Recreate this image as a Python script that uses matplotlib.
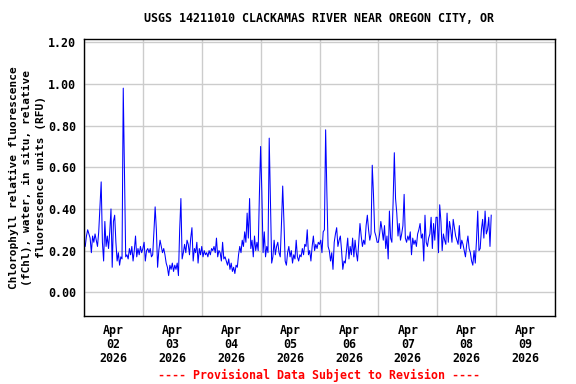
import numpy as np
import pandas as pd
import matplotlib
matplotlib.use("Agg")
import matplotlib.pyplot as plt
import matplotlib.dates as mdates

# half-hourly chlorophyll readings (RFU), one list per day
apr02 = [0.24, 0.22, 0.27, 0.30, 0.28, 0.26, 0.19, 0.27, 0.24, 0.28, 0.25, 0.22,
         0.29, 0.41, 0.53, 0.24, 0.15, 0.34, 0.22, 0.27, 0.21, 0.29, 0.40, 0.12,
         0.34, 0.37, 0.24, 0.15, 0.19, 0.13, 0.17, 0.16, 0.98, 0.58, 0.17, 0.18,
         0.16, 0.21, 0.18, 0.22, 0.15, 0.20, 0.27, 0.17, 0.21, 0.18, 0.22, 0.19]
apr03 = [0.21, 0.24, 0.15, 0.20, 0.21, 0.19, 0.21, 0.17, 0.18, 0.29, 0.41, 0.30,
         0.12, 0.20, 0.25, 0.22, 0.19, 0.21, 0.18, 0.14, 0.12, 0.08, 0.13, 0.11,
         0.14, 0.10, 0.13, 0.11, 0.14, 0.08, 0.30, 0.45, 0.16, 0.19, 0.23, 0.19,
         0.25, 0.23, 0.18, 0.26, 0.31, 0.15, 0.21, 0.19, 0.24, 0.14, 0.21, 0.18]
apr04 = [0.22, 0.17, 0.20, 0.18, 0.19, 0.17, 0.20, 0.18, 0.21, 0.20, 0.22, 0.19,
         0.26, 0.17, 0.20, 0.19, 0.15, 0.24, 0.16, 0.17, 0.15, 0.13, 0.16, 0.11,
         0.14, 0.10, 0.12, 0.09, 0.13, 0.12, 0.18, 0.22, 0.19, 0.25, 0.22, 0.29,
         0.24, 0.38, 0.26, 0.45, 0.21, 0.25, 0.17, 0.27, 0.20, 0.24, 0.20, 0.47]
apr05 = [0.70, 0.48, 0.19, 0.29, 0.17, 0.22, 0.19, 0.74, 0.45, 0.14, 0.17, 0.25,
         0.18, 0.22, 0.24, 0.19, 0.17, 0.33, 0.51, 0.34, 0.15, 0.13, 0.19, 0.22,
         0.17, 0.20, 0.14, 0.18, 0.16, 0.25, 0.17, 0.15, 0.18, 0.17, 0.21, 0.18,
         0.23, 0.22, 0.30, 0.18, 0.20, 0.15, 0.22, 0.27, 0.20, 0.23, 0.21, 0.24]
apr06 = [0.23, 0.25, 0.19, 0.29, 0.30, 0.78, 0.48, 0.22, 0.20, 0.15, 0.19, 0.11,
         0.24, 0.28, 0.31, 0.22, 0.25, 0.27, 0.20, 0.11, 0.15, 0.14, 0.20, 0.26,
         0.16, 0.22, 0.18, 0.26, 0.17, 0.25, 0.19, 0.15, 0.24, 0.33, 0.27, 0.22,
         0.25, 0.23, 0.32, 0.37, 0.30, 0.25, 0.28, 0.61, 0.47, 0.29, 0.27, 0.24]
apr07 = [0.24, 0.28, 0.34, 0.30, 0.25, 0.32, 0.21, 0.27, 0.16, 0.39, 0.26, 0.24,
         0.43, 0.67, 0.45, 0.38, 0.27, 0.33, 0.25, 0.28, 0.32, 0.47, 0.26, 0.24,
         0.27, 0.25, 0.29, 0.18, 0.26, 0.23, 0.25, 0.22, 0.28, 0.30, 0.33, 0.26,
         0.28, 0.15, 0.37, 0.24, 0.22, 0.26, 0.28, 0.36, 0.21, 0.33, 0.25, 0.36]
apr08 = [0.36, 0.19, 0.42, 0.34, 0.20, 0.28, 0.25, 0.23, 0.38, 0.24, 0.34, 0.30,
         0.24, 0.35, 0.31, 0.27, 0.25, 0.23, 0.32, 0.21, 0.25, 0.23, 0.20, 0.17,
         0.23, 0.27, 0.21, 0.19, 0.15, 0.13, 0.20, 0.14, 0.25, 0.39, 0.20, 0.21,
         0.30, 0.35, 0.26, 0.39, 0.28, 0.30, 0.36, 0.22, 0.37]

values = apr02 + apr03 + apr04 + apr05 + apr06 + apr07 + apr08
times = pd.date_range("2026-04-02 00:00", periods=len(values), freq="30min")

yticks = [0.0, 0.2, 0.4, 0.6, 0.8, 1.0, 1.2]
day_labels = ["Apr\n02\n2026", "Apr\n03\n2026", "Apr\n04\n2026", "Apr\n05\n2026",
              "Apr\n06\n2026", "Apr\n07\n2026", "Apr\n08\n2026", "Apr\n09\n2026"]

font = {"family": "DejaVu Sans Mono", "weight": "bold", "size": 8.4}
label_font = {"family": "DejaVu Sans Mono", "weight": "bold", "size": 8.0}

fig = plt.figure(figsize=(5.76, 3.84), dpi=100)
ax = fig.add_axes([84 / 576, 1 - 316 / 384, 471 / 576, 277 / 384])

ax.plot(times, values, color="#0000ff", linewidth=0.75)

start = pd.Timestamp("2026-04-02")
ax.set_xlim(start, start + pd.Timedelta(days=8))
ax.set_ylim(-0.114, 1.216)

ax.xaxis.set_major_locator(mdates.DayLocator())
ax.xaxis.set_major_formatter(plt.NullFormatter())
noon = [start + pd.Timedelta(hours=12 + 24 * i) for i in range(8)]
ax.set_xticks(noon, minor=True)
ax.set_xticklabels(day_labels, minor=True, fontdict=font, linespacing=1.1)

ax.set_yticks(yticks)
ax.set_yticklabels(["%.2f" % v for v in yticks], fontdict=font)

ax.tick_params(which="both", length=0)
ax.tick_params(axis="x", which="minor", pad=6)
ax.tick_params(axis="y", pad=5.5)
ax.grid(True, which="major", color="#cccccc", linewidth=1)
ax.set_axisbelow(True)
for s in ax.spines.values():
    s.set_linewidth(1.0)
    s.set_color("black")

ax.set_ylabel("Chlorophyll relative fluorescence\n(fChl), water, in situ, relative\n"
              "fluorescence units (RFU)", fontdict=label_font, linespacing=1.4, labelpad=2)

fig.text(319.5 / 576, 1 - 19 / 384, "USGS 14211010 CLACKAMAS RIVER NEAR OREGON CITY, OR",
         ha="center", va="center", **font)
fig.text(319.5 / 576, 1 - 375 / 384, "---- Provisional Data Subject to Revision ----",
         ha="center", va="center", color="#ff0000", **font)

fig.savefig("out.png", dpi=100)
